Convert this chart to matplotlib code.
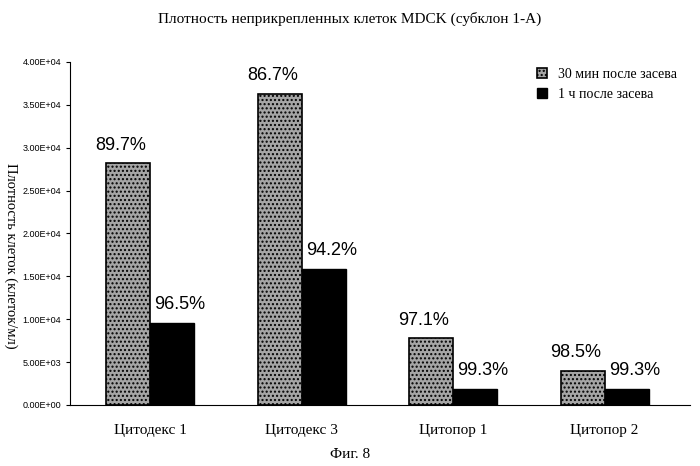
import matplotlib
matplotlib.use("Agg")
import matplotlib.pyplot as plt
import numpy as np

categories = ["Цитодекс 1", "Цитодекс 3", "Цитопор 1", "Цитопор 2"]
vals_30min = [2.82e4, 3.63e4, 7.8e3, 4.0e3]
vals_1h = [9.6e3, 1.59e4, 1.9e3, 1.9e3]
labels_30min = ["89.7%", "86.7%", "97.1%", "98.5%"]
labels_1h = ["96.5%", "94.2%", "99.3%", "99.3%"]
yticks = [0, 5e3, 1e4, 1.5e4, 2e4, 2.5e4, 3e4, 3.5e4, 4e4]
ytick_labels = ["0.00E+00", "5.00E+03", "1.00E+04", "1.50E+04", "2.00E+04",
                "2.50E+04", "3.00E+04", "3.50E+04", "4.00E+04"]

fig = plt.figure(figsize=(7, 4.66), dpi=100)
ax = fig.add_axes([0.1, 0.131, 0.885, 0.736])
x = np.arange(len(categories))
w = 0.29
ax.bar(x - w/2, vals_30min, w, color="#a5a5a5", edgecolor="black", hatch="....", linewidth=1.2,
       label="30 мин после засева")
ax.bar(x + w/2, vals_1h, w, color="black", edgecolor="black", label="1 ч после засева")
for xi, v, l in zip(x - w/2, vals_30min, labels_30min):
    ax.text(xi - 0.05, v + 1100, l, ha="center", va="bottom", fontsize=13, family="Liberation Sans")
for xi, v, l in zip(x + w/2, vals_1h, labels_1h):
    ax.text(xi + 0.05, v + 1100, l, ha="center", va="bottom", fontsize=13, family="Liberation Sans")

ax.set_xlim(-0.53, 3.56)
ax.set_ylim(0, 4e4)
ax.set_yticks(yticks)
ax.set_yticklabels(ytick_labels, fontsize=6.5, family="Liberation Sans")
ax.set_xticks(x)
ax.set_xticklabels(categories, fontsize=11, family="Liberation Serif")
ax.tick_params(axis="x", length=0, pad=14)
ax.tick_params(axis="y", length=3)
for s in ["top", "right"]:
    ax.spines[s].set_visible(False)
ax.legend(loc="upper right", bbox_to_anchor=(1.0, 1.02), frameon=False,
          prop={"family": "Liberation Serif", "size": 10}, handlelength=0.7, handleheight=0.7)
fig.text(0.5, 0.975, "Плотность неприкрепленных клеток MDCK (субклон 1-А)", ha="center", va="top",
         fontsize=11, family="Liberation Serif")
fig.text(0.016, 0.45, "Плотность клеток (клеток/мл)", rotation=270, ha="center", va="center",
         fontsize=10.5, family="Liberation Serif")
fig.text(0.5, 0.01, "Фиг. 8", ha="center", va="bottom", fontsize=11, family="Liberation Serif")
fig.savefig("out.png", dpi=100)
